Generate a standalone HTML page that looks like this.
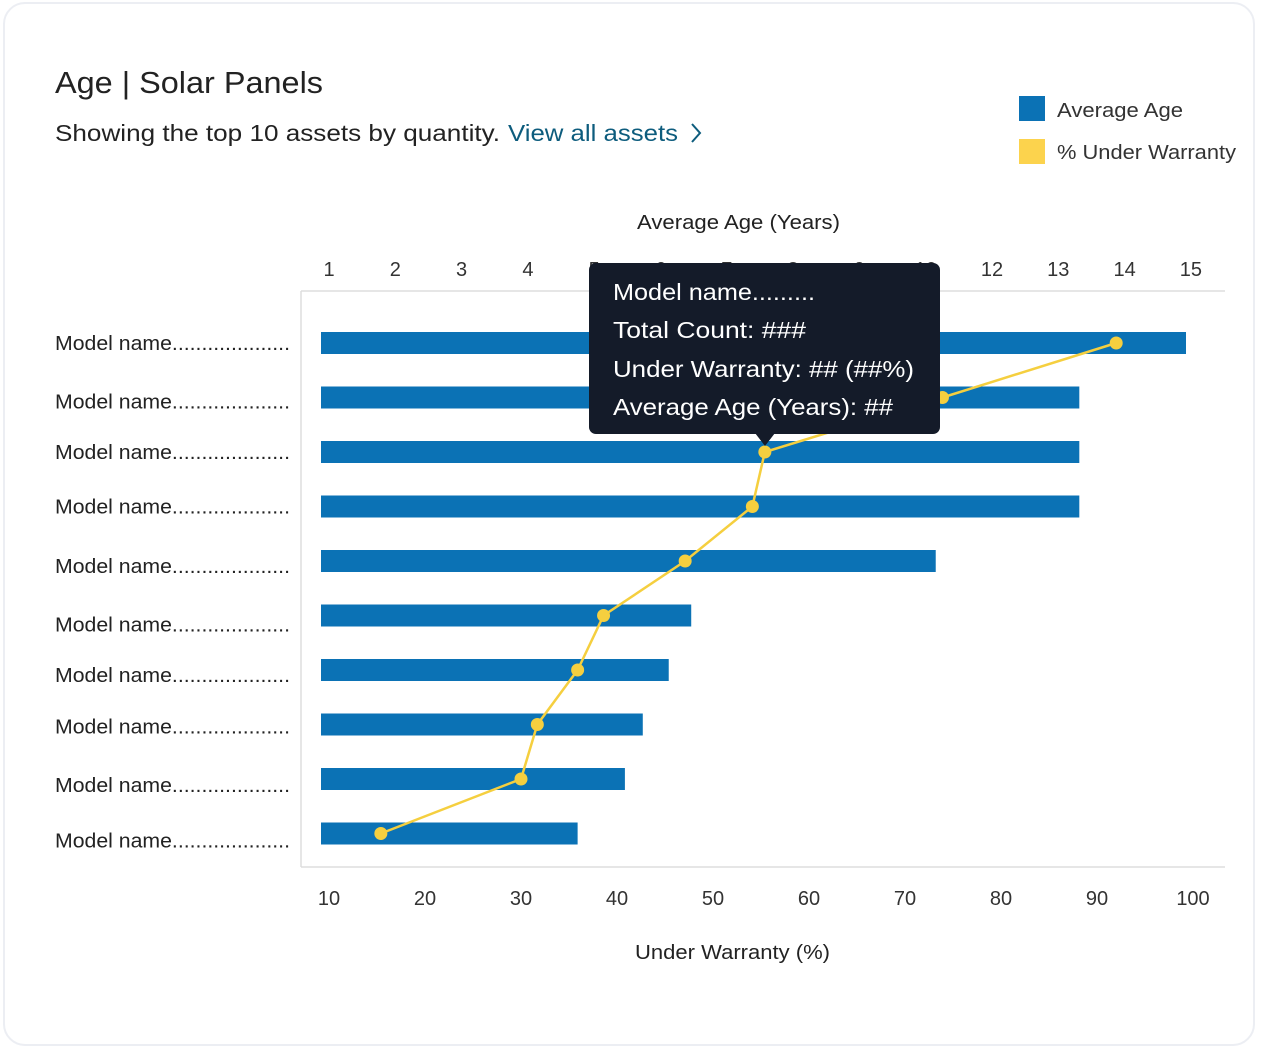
<!DOCTYPE html>
<html><head><meta charset="utf-8"><style>
html,body{margin:0;padding:0;background:#fff;width:1262px;height:1050px;overflow:hidden;font-family:"Liberation Sans",sans-serif;}
.card{position:absolute;left:3px;top:2px;width:1252px;height:1044px;border:2px solid #eceef3;border-radius:22px;background:#fff;box-sizing:border-box;}
</style></head><body>
<div class="card"></div>
<svg id="chart" width="1262" height="1050" style="position:absolute;left:0;top:0" font-family="Liberation Sans, sans-serif">
<text x="55" y="93" font-size="31" fill="#222" textLength="268" lengthAdjust="spacingAndGlyphs">Age | Solar Panels</text>
<text x="55" y="141" font-size="23" fill="#222" textLength="445" lengthAdjust="spacingAndGlyphs">Showing the top 10 assets by quantity.</text>
<text x="508" y="141" font-size="23" fill="#0d5c7d" textLength="170" lengthAdjust="spacingAndGlyphs">View all assets</text>
<path d="M692 124 L700 133 L692 142" fill="none" stroke="#0d5c7d" stroke-width="2"/>
<rect x="1019" y="96" width="26" height="25" fill="#0b72b5"/>
<text x="1057" y="117" font-size="20" fill="#333" textLength="126" lengthAdjust="spacingAndGlyphs">Average Age</text>
<rect x="1019" y="139" width="26" height="25" fill="#fcd34d"/>
<text x="1057" y="159" font-size="20" fill="#333" textLength="179" lengthAdjust="spacingAndGlyphs">% Under Warranty</text>
<text x="637" y="229" font-size="20" fill="#222" textLength="203" lengthAdjust="spacingAndGlyphs">Average Age (Years)</text>
<text x="635" y="959" font-size="20" fill="#222" textLength="195" lengthAdjust="spacingAndGlyphs">Under Warranty (%)</text>
<line x1="301" y1="291" x2="1225" y2="291" stroke="#ddd" stroke-width="1.5"/>
<line x1="301" y1="291" x2="301" y2="867" stroke="#ddd" stroke-width="1.5"/>
<line x1="301" y1="867" x2="1225" y2="867" stroke="#ddd" stroke-width="1.5"/>
<g id="marks"></g>
<g id="tip">
<rect x="589" y="263" width="351" height="171" rx="7" fill="#141b29"/>
<path d="M755 433 L765 446 L775 433 Z" fill="#141b29"/>
<text x="613" y="300" font-size="23" fill="#fff" textLength="202" lengthAdjust="spacingAndGlyphs">Model name.........</text>
<text x="613" y="338" font-size="23" fill="#fff" textLength="193" lengthAdjust="spacingAndGlyphs">Total Count: ###</text>
<text x="613" y="377" font-size="23" fill="#fff" textLength="301" lengthAdjust="spacingAndGlyphs">Under Warranty: ## (##%)</text>
<text x="613" y="415" font-size="23" fill="#fff" textLength="280" lengthAdjust="spacingAndGlyphs">Average Age (Years): ##</text>
</g>
</svg>
<script>
const categories = ["Model name....................","Model name....................","Model name....................","Model name....................","Model name....................","Model name....................","Model name....................","Model name....................","Model name....................","Model name...................."];
const avgAge = [15, 13.15, 13.15, 13.15, 10.66, 6.42, 6.03, 5.58, 5.27, 4.45];
const warrantyPct = [92, 73.9, 55.4, 54.1, 47.1, 38.6, 35.9, 31.7, 30, 15.4];
const topTicks = ["1","2","3","4","5","6","7","8","9","10","12","13","14","15"];
const bottomTicks = [10,20,30,40,50,60,70,80,90,100];
const labelNudge = [0,4,0,0,5,9,5,2,6,7];
const NS="http://www.w3.org/2000/svg";
const g=document.getElementById('marks');
const xAge=a=>321+a*(1186-321)/15;
const xPct=p=>329+(p-10)*9.6;
const yRow=i=>343+i*54.5;
function mk(t,attrs){const e=document.createElementNS(NS,t);for(const k in attrs)e.setAttribute(k,attrs[k]);g.appendChild(e);return e;}
topTicks.forEach((t,i)=>{const e=mk('text',{x:329+i*66.3,y:276,'font-size':20,fill:'#333','text-anchor':'middle'});e.textContent=t;

});
bottomTicks.forEach(t=>{const e=mk('text',{x:xPct(t),y:905,'font-size':20,fill:'#333','text-anchor':'middle'});e.textContent=t;

});
categories.forEach((c,i)=>{const e=mk('text',{x:55,y:yRow(i)+7+labelNudge[i],'font-size':20,fill:'#222',textLength:235,lengthAdjust:'spacingAndGlyphs'});e.textContent=c;


const b=mk('rect',{x:321,y:yRow(i)-11,width:xAge(avgAge[i])-321,height:22,fill:'#0b72b5'});

});
const pts=warrantyPct.map((p,i)=>xPct(p)+','+yRow(i)).join(' ');
const pl=mk('polyline',{points:pts,fill:'none',stroke:'#f5cf3f','stroke-width':2.5});


warrantyPct.forEach((p,i)=>{const c=mk('circle',{cx:xPct(p),cy:yRow(i),r:6.5,fill:'#f5cf3f'});

});
document.getElementById('chart').appendChild(document.getElementById('tip'));
</script>
</body></html>
